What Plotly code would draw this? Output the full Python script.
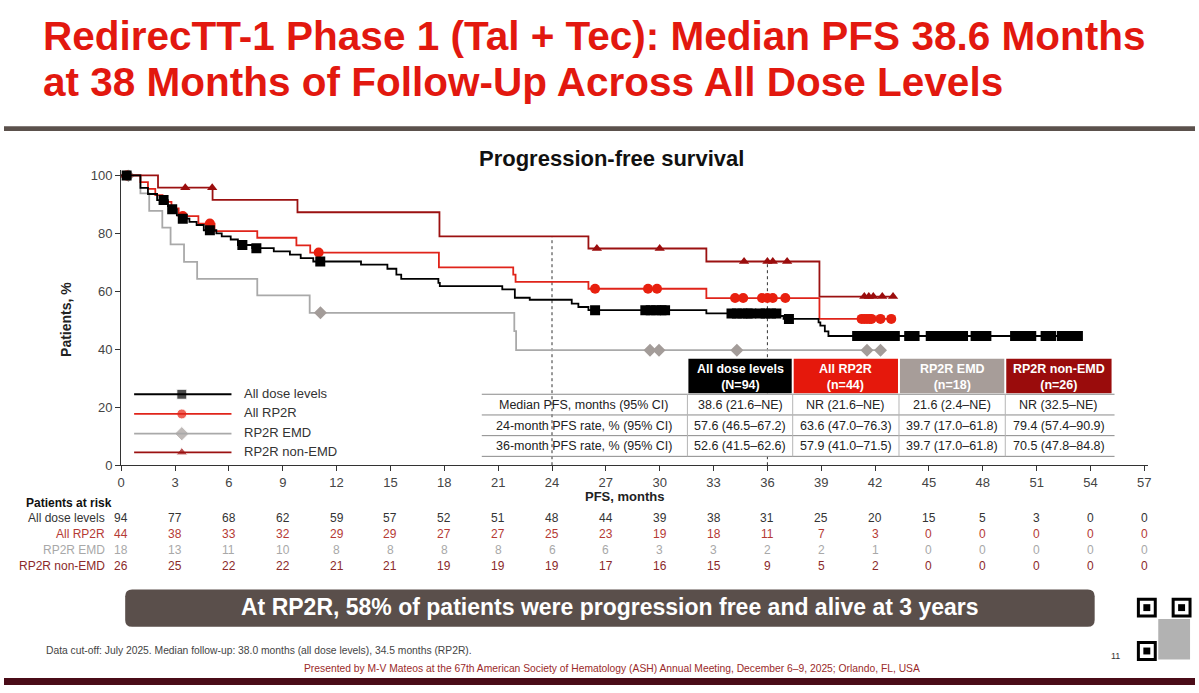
import plotly.graph_objects as go

W, H = 1199, 693


def px(x):
    return x / W


def py(y):
    return 1 - y / H


# ---- data ----
# step curves: (time in months, PFS % after the step)
dose_t = [0, 1.07, 1.49, 2.0, 2.6, 2.75, 3.1, 3.3, 3.8, 4.2, 4.6, 5.3, 5.6, 6.1, 6.5, 7.3, 8.5, 9.4, 10.0, 10.7,
          13.36, 14.83, 15.33, 15.6, 17.67, 17.75, 21.23, 21.93, 22.76, 25.1, 25.47, 26.03, 32.6, 36.7, 36.9,
          38.85, 38.95, 39.2, 39.4, 53.4]
dose_s = [100, 95.7, 93.6, 91.5, 89.4, 88.3, 86.2, 85.1, 84.0, 82.9, 81.1, 80.0, 79.0, 77.9, 76.0, 74.9, 73.8, 72.7,
          71.5, 70.3, 69.2, 67.8, 65.8, 64.3, 62.9, 61.8, 60.7, 57.8, 57.1, 55.8, 54.6, 53.5, 52.4, 51.5, 50.5,
          49.3, 48.2, 46.2, 44.6, 44.6]
dose_cens = [0.3, 2.36, 2.84, 3.43, 4.94, 6.75, 7.53, 11.09, 26.4, 29.2, 29.5, 29.8, 30.1, 30.3, 34.0, 34.3, 34.6,
             34.9, 35.1, 35.6, 35.9, 36.2, 36.5, 37.2, 41.0, 41.3, 41.6, 41.9, 42.2, 42.5, 42.8, 43.1, 43.9, 44.2,
             45.1, 45.4, 45.7, 46.0, 46.3, 46.6, 46.9, 47.6, 47.9, 48.2, 49.8, 50.1, 50.4, 50.7, 51.5, 51.8, 52.4,
             52.7, 53.0, 53.3]

rp2r_t = [0, 1.07, 1.49, 1.9, 2.3, 2.8, 3.2, 4.3, 5.2, 7.58, 9.76, 10.53, 17.7, 21.84, 21.97, 26.03, 32.6, 38.9, 42.9]
rp2r_s = [100, 97.7, 95.4, 93.2, 90.9, 88.6, 86.0, 83.4, 80.8, 78.5, 75.9, 73.4, 68.3, 65.8, 63.3, 60.9, 57.7, 50.5,
          50.5]
rp2r_cens = [0.3, 3.43, 4.94, 11.0, 26.4, 29.35, 29.85, 34.2, 34.65, 35.7, 36.0, 36.3, 37.0, 41.25, 41.4, 41.55,
             41.7, 41.8, 42.3, 42.9]

emd_t = [0, 1.07, 1.56, 2.29, 2.75, 3.5, 4.23, 7.58, 10.5, 21.9, 22.0, 42.3]
emd_s = [100, 93.8, 87.8, 82.0, 76.2, 70.2, 64.3, 58.6, 52.6, 46.3, 39.7, 39.7]
emd_cens = [0.4, 11.1, 29.46, 29.96, 34.3, 41.55, 42.3]

nonemd_t = [0, 2.05, 5.09, 9.82, 17.73, 26.03, 32.6, 38.9, 43.0]
nonemd_s = [100, 95.8, 91.6, 87.3, 79.0, 74.8, 70.3, 58.2, 58.2]
nonemd_cens = [0.2, 3.57, 5.07, 26.5, 30.0, 34.7, 36.0, 36.3, 37.1, 41.4, 41.65, 41.9, 42.4, 43.0]

group_names = ["All dose levels", "All RP2R", "RP2R EMD", "RP2R non-EMD"]
group_n = ["(N=94)", "(n=44)", "(n=18)", "(n=26)"]

# summary table
row_labels = ["Median PFS, months (95% CI)", "24-month PFS rate, % (95% CI)", "36-month PFS rate, % (95% CI)"]
median_pfs = ["38.6 (21.6–NE)", "NR (21.6–NE)", "21.6 (2.4–NE)", "NR (32.5–NE)"]
rate_24 = ["57.6 (46.5–67.2)", "63.6 (47.0–76.3)", "39.7 (17.0–61.8)", "79.4 (57.4–90.9)"]
rate_36 = ["52.6 (41.5–62.6)", "57.9 (41.0–71.5)", "39.7 (17.0–61.8)", "70.5 (47.8–84.8)"]

# patients at risk
risk_months = list(range(0, 58, 3))
risk_dose = [94, 77, 68, 62, 59, 57, 52, 51, 48, 44, 39, 38, 31, 25, 20, 15, 5, 3, 0, 0]
risk_rp2r = [44, 38, 33, 32, 29, 29, 27, 27, 25, 23, 19, 18, 11, 7, 3, 0, 0, 0, 0, 0]
risk_emd = [18, 13, 11, 10, 8, 8, 8, 8, 6, 6, 3, 3, 2, 2, 1, 0, 0, 0, 0, 0]
risk_nonemd = [26, 25, 22, 22, 21, 21, 19, 19, 19, 17, 16, 15, 9, 5, 2, 0, 0, 0, 0, 0]

landmarks = [24, 36]

FONT = "Liberation Sans, Arial, sans-serif"
line_cols = ["#000000", "#e0241a", "#a9a9a9", "#9b1111"]
mark_cols = ["#000000", "#e8200f", "#a39c99", "#9b0d0d"]
symbols = ["square", "circle", "diamond", "triangle-up"]
head_cols = ["#000000", "#e5180c", "#a79d99", "#9a0c0c"]
risk_cols = ["#333333", "#b53a34", "#a8a8a8", "#8b2a2a"]


def step_value(ts, ss, t):
    v = ss[0]
    for ti, si in zip(ts, ss):
        if ti <= t:
            v = si
    return v


curves = [(dose_t, dose_s, dose_cens), (rp2r_t, rp2r_s, rp2r_cens),
          (emd_t, emd_s, emd_cens), (nonemd_t, nonemd_s, nonemd_cens)]

fig = go.Figure()

# landmark dashed lines
for lm in landmarks:
    top = max(step_value(t, s, lm) for t, s, _ in curves)
    fig.add_trace(go.Scatter(x=[lm, lm], y=[0, top], mode="lines",
                             line=dict(color="#333333", width=1, dash="dot"),
                             hoverinfo="skip", showlegend=False))

# draw grey first so black ends on top
for i in [2, 3, 1, 0]:
    t, s, cens = curves[i]
    fig.add_trace(go.Scatter(x=t, y=s, mode="lines", line_shape="hv",
                             line=dict(color=line_cols[i], width=1.8),
                             name=group_names[i], showlegend=False))
    msize = 10 if symbols[i] != "triangle-up" else 9
    fig.add_trace(go.Scatter(x=cens, y=[step_value(t, s, c) for c in cens], mode="markers",
                             marker=dict(symbol=symbols[i], size=msize, color=mark_cols[i]),
                             showlegend=False))

shapes = []
ann = []


def text(x, y, s, size, color, xanchor="center", xref="paper", angle=0, family=FONT):
    ann.append(dict(x=x if xref != "paper" else px(x), y=py(y), xref=xref, yref="paper",
                    xanchor=xanchor, yanchor="middle", text=s, showarrow=False, textangle=angle,
                    font=dict(family=family, size=size, color=color)))


def rect(x0, x1, y0, y1, color, **kw):
    shapes.append(dict(type="rect", xref="paper", yref="paper", x0=px(x0), x1=px(x1), y0=py(y1), y1=py(y0),
                       fillcolor=color, line=dict(width=0), **kw))


def hline(x0, x1, y, color, width=1):
    shapes.append(dict(type="line", xref="paper", yref="paper", x0=px(x0), x1=px(x1), y0=py(y), y1=py(y),
                       line=dict(color=color, width=width)))


# header: title and rule
text(37, 35, "<b>RedirecTT-1 Phase 1 (Tal + Tec): Median PFS 38.6 Months</b>", 40.5, "#e2180f", "left")
text(37, 81, "<b>at 38 Months of Follow-Up Across All Dose Levels</b>", 40.5, "#e2180f", "left")
rect(0, W, 126, 131, "#5b514c")

text(612, 159, "<b>Progression-free survival</b>", 22, "#111111")
text(63, 322, "<b>Patients, %</b>", 14, "#222222", angle=-90)
text(625, 502, "<b>PFS, months</b>", 13, "#222222")

# legend drawn by hand (long line with marker in the middle)
leg_y = [398, 418, 438, 457]
for i in range(4):
    hline(131, 229, leg_y[i], line_cols[i], 1.8)
    text(240, leg_y[i] - 1, group_names[i], 13, "#333333", "left")
fig.add_trace(go.Scatter(x=[px(179)] * 4, y=[py(v) for v in leg_y], xaxis="x2", yaxis="y2", mode="markers",
                         marker=dict(symbol=symbols, size=[10, 10, 11, 10], color=mark_cols),
                         showlegend=False, hoverinfo="skip"))

# summary table
col_x = [688, 794, 901, 1008, 1116]
rect(688, 1116, 398, 461, "white")
for j in range(4):
    rect(col_x[j] + 1, col_x[j + 1] - 1, 362, 397, head_cols[j])
    cx = (col_x[j] + col_x[j + 1]) / 2
    text(cx, 380, "<b>" + group_names[j] + "<br>" + group_n[j] + "</b>", 12.5, "white")
    for r, vals in enumerate([median_pfs, rate_24, rate_36]):
        text(cx, 409 + 21 * r, vals[j], 12.5, "#222222")
for r in range(3):
    text(584, 409 + 21 * r, row_labels[r], 12.5, "#222222")
for yy in [398, 419, 440, 461]:
    hline(481, 1118, yy, "#8a8a8a")
for xx in col_x[:-1]:
    shapes.append(dict(type="line", xref="paper", yref="paper", x0=px(xx), x1=px(xx), y0=py(398), y1=py(461),
                       line=dict(color="#b5b5b5", width=1)))

# patients at risk
text(20, 508, "<b>Patients at risk</b>", 12, "#111111", "left")
for i, row in enumerate([risk_dose, risk_rp2r, risk_emd, risk_nonemd]):
    yy = 524 + 16 * i
    text(104, yy, group_names[i], 12, risk_cols[i], "right")
    for m, v in zip(risk_months, row):
        text(m, yy, str(v), 12, risk_cols[i], xref="x")

# key message banner (rounded box)
x0, x1, y0, y1, r = 122, 1098, 596, 634, 7
path = (f"M {px(x0 + r)},{py(y0)} L {px(x1 - r)},{py(y0)} Q {px(x1)},{py(y0)} {px(x1)},{py(y0 + r)} "
        f"L {px(x1)},{py(y1 - r)} Q {px(x1)},{py(y1)} {px(x1 - r)},{py(y1)} L {px(x0 + r)},{py(y1)} "
        f"Q {px(x0)},{py(y1)} {px(x0)},{py(y1 - r)} L {px(x0)},{py(y0 + r)} Q {px(x0)},{py(y0)} {px(x0 + r)},{py(y0)} Z")
shapes.append(dict(type="path", xref="paper", yref="paper", path=path, fillcolor="#5a4f4b", line=dict(width=0)))
text(610, 614, "<b>At RP2R, 58% of patients were progression free and alive at 3 years</b>", 23, "white")

# footer
text(40, 658, "Data cut-off: July 2025. Median follow-up: 38.0 months (all dose levels), 34.5 months (RP2R).",
     10.3, "#444444", "left")
text(612, 676, "Presented by M-V Mateos at the 67th American Society of Hematology (ASH) Annual Meeting, "
               "December 6–9, 2025; Orlando, FL, USA", 10.3, "#9b2a2a")
text(1119, 664, "11", 9, "#333333")
rect(0, W, 686, H, "#4a0c18")

# QR code corner marks
for qx, qy in [(1142, 606), (1177, 606), (1142, 650)]:
    shapes.append(dict(type="rect", xref="paper", yref="paper", x0=px(qx), x1=px(qx + 17), y0=py(qy + 17),
                       y1=py(qy), fillcolor="white", line=dict(color="black", width=3)))
    rect(qx + 5, qx + 12, qy + 5, qy + 12, "black")
rect(1162, 1194, 626, 667, "#555555", opacity=0.45)

fig.update_layout(
    width=W, height=H,
    margin=dict(l=0, r=0, t=0, b=0),
    paper_bgcolor="white", plot_bgcolor="rgba(0,0,0,0)",
    showlegend=False,
    font=dict(family=FONT),
    xaxis=dict(domain=[px(118), px(118 + 57.2 * 18.07)], range=[0, 57.2],
               tickvals=risk_months, ticks="outside", ticklen=5, tickcolor="#333333",
               showline=True, linecolor="#333333", linewidth=1.2, showgrid=False, zeroline=False,
               tickfont=dict(family=FONT, size=13, color="#444444")),
    yaxis=dict(domain=[py(470), py(470 - 102 * 2.94)], range=[0, 102],
               tickvals=[0, 20, 40, 60, 80, 100], ticks="outside", ticklen=5, tickcolor="#333333",
               showline=True, linecolor="#333333", linewidth=1.2, showgrid=False, zeroline=False,
               tickfont=dict(family=FONT, size=13, color="#444444")),
    xaxis2=dict(domain=[0, 1], range=[0, 1], visible=False, anchor="y2"),
    yaxis2=dict(domain=[0, 1], range=[0, 1], visible=False, anchor="x2"),
    shapes=shapes,
    annotations=ann,
)

fig.write_html("out.html", config={"displayModeBar": False},
               post_script="document.body.style.margin='0px';")
